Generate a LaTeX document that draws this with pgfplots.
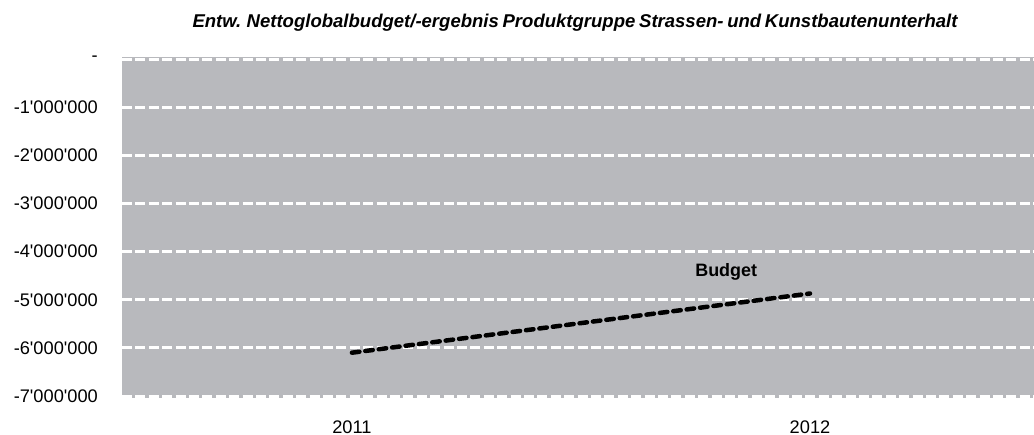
\documentclass[border=0pt]{standalone}
\usepackage{pgfplots}
\pgfplotsset{compat=1.18}
\usepackage{fontspec}
\newfontfamily\hv{Liberation Sans}
\definecolor{bg}{RGB}{184,185,189}
\begin{document}
\begin{tikzpicture}[x=1bp,y=1bp]
\useasboundingbox (-122,-36.8) rectangle (912,398.2);
\begin{axis}[
  at={(0,0)}, anchor=south west,
  scale only axis,
  width=912bp, height=341.3bp,
  xmin=2010.498, xmax=2012.489,
  ymin=-7.045e6, ymax=0.045e6,
  scaled y ticks=false,
  axis line style={draw=none},
  major tick length=0pt,
  axis background/.style={fill=bg},
  ymajorgrids,
  major grid style={white, line width=3bp, dash pattern=on 10bp off 3.4bp},
  ytick={-7000000,-6000000,-5000000,-4000000,-3000000,-2000000,-1000000,0},
  yticklabels={-7'000'000,-6'000'000,-5'000'000,-4'000'000,-3'000'000,-2'000'000,-1'000'000,-},
  xtick={2011,2012},
  xticklabels={2011,2012},
  tick label style={font=\hv\fontsize{18.3}{20}\selectfont},
  yticklabel style={inner sep=0pt, anchor=east, xshift=-24bp},
  xticklabel style={inner sep=0pt, anchor=north, yshift=-22bp},
  clip=false,
]
\addplot[black, line width=4.5bp, line cap=round, dash pattern=on 7.5bp off 6bp] coordinates {(2011,-6100000) (2012,-4870000)};
\node[anchor=base, inner sep=0pt, font=\hv\bfseries\fontsize{18}{20}\selectfont] at (axis cs:2011.817,-4510000) {Budget};
\end{axis}
\node[anchor=base, inner sep=0pt, font=\hv\bfseries\itshape\fontsize{18.6}{20}\selectfont] at (453,371) {\spaceskip=0.2em\relax Entw. Nettoglobalbudget/-ergebnis Produktgruppe Strassen- und Kunstbautenunterhalt};
\end{tikzpicture}
\end{document}
